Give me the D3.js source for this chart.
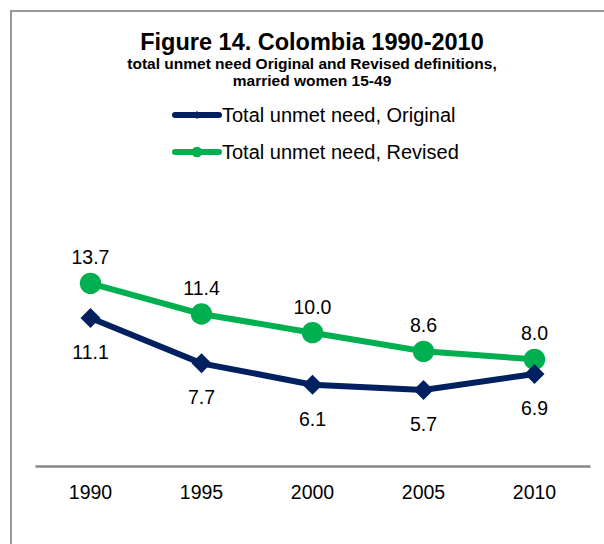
<!DOCTYPE html>
<html lang="en">
<head>
  <meta charset="UTF-8">
  <title>Figure 14. Colombia 1990-2010</title>
  <style>
    body {
      margin: 0;
      background: #ffffff;
      font-family: "Liberation Sans", Arial, sans-serif;
    }
  </style>
</head>
<body>
  <div id="chart"></div>

  <script src="https://d3js.org/d3.v7.min.js"></script>
  <script>
    const years = ["1990", "1995", "2000", "2005", "2010"];
    const original = [11.1, 7.7, 6.1, 5.7, 6.9];
    const revised = [13.7, 11.4, 10.0, 8.6, 8.0];
    const seriesNames = ["Total unmet need, Original", "Total unmet need, Revised"];

    const width = 604;
    const height = 544;
    const navy = "#002060";
    const green = "#00b050";

    const svg = d3.select("#chart")
      .append("svg")
      .attr("width", width)
      .attr("height", height);

    // chart frame (cropped at right and bottom)
    svg.append("path")
      .attr("d", "M11,544 V11 H604")
      .attr("fill", "none")
      .attr("stroke", "#999")
      .attr("stroke-width", 2);

    // titles
    svg.append("text")
      .attr("x", 312).attr("y", 50)
      .attr("text-anchor", "middle")
      .attr("font-size", 23.5).attr("font-weight", "bold")
      .attr("fill", "#000")
      .text("Figure 14. Colombia 1990-2010");
    svg.append("text")
      .attr("x", 312).attr("y", 69)
      .attr("text-anchor", "middle")
      .attr("font-size", 15.5).attr("font-weight", "bold")
      .text("total unmet need Original and Revised definitions,");
    svg.append("text")
      .attr("x", 312).attr("y", 86)
      .attr("text-anchor", "middle")
      .attr("font-size", 15.5).attr("font-weight", "bold")
      .text("married women 15-49");

    const x = d3.scaleBand().domain(years).range([35, 590]);
    const y = d3.scaleLinear().domain([0, 30]).range([466, 66]);
    const cx = d => x(d) + x.bandwidth() / 2;

    // x axis
    const xAxis = svg.append("g")
      .attr("transform", "translate(0,466)")
      .call(d3.axisBottom(x).tickSize(0).tickPadding(19));
    xAxis.select(".domain").attr("stroke", "#888").attr("stroke-width", 2.5);
    xAxis.selectAll("text")
      .attr("font-size", 19.5)
      .attr("font-family", "Liberation Sans, Arial, sans-serif")
      .attr("fill", "#000");

    const line = d3.line()
      .x((d, i) => cx(years[i]))
      .y(d => y(d));

    // square turned 45 degrees gives the Excel-style diamond
    const diamond = d3.symbol().type(d3.symbolSquare);
    const circle = d3.symbol().type(d3.symbolCircle);

    // revised series
    svg.append("path")
      .datum(revised)
      .attr("d", line)
      .attr("fill", "none")
      .attr("stroke", green)
      .attr("stroke-width", 6);
    svg.selectAll(".rev-pt")
      .data(revised)
      .enter().append("path")
      .attr("class", "rev-pt")
      .attr("d", circle.size(360))
      .attr("transform", (d, i) => `translate(${cx(years[i])},${y(d)})`)
      .attr("fill", green);

    // original series
    svg.append("path")
      .datum(original)
      .attr("d", line)
      .attr("fill", "none")
      .attr("stroke", navy)
      .attr("stroke-width", 6);
    svg.selectAll(".orig-pt")
      .data(original)
      .enter().append("path")
      .attr("class", "orig-pt")
      .attr("d", diamond.size(200))
      .attr("transform", (d, i) => `translate(${cx(years[i])},${y(d)}) rotate(45)`)
      .attr("fill", navy);

    // data labels
    svg.selectAll(".rev-lbl")
      .data(revised)
      .enter().append("text")
      .attr("x", (d, i) => cx(years[i]))
      .attr("y", d => y(d) - 19)
      .attr("text-anchor", "middle")
      .attr("font-size", 19.5)
      .text(d => d.toFixed(1));
    svg.selectAll(".orig-lbl")
      .data(original)
      .enter().append("text")
      .attr("x", (d, i) => cx(years[i]))
      .attr("y", d => y(d) + 41)
      .attr("text-anchor", "middle")
      .attr("font-size", 19.5)
      .text(d => d.toFixed(1));

    // legend
    const legend = [
      { name: seriesNames[0], color: navy, sym: diamond.size(32), rot: 45, y: 115 },
      { name: seriesNames[1], color: green, sym: circle.size(90), rot: 0, y: 152 }
    ];
    legend.forEach(l => {
      svg.append("line")
        .attr("x1", 175).attr("x2", 219)
        .attr("y1", l.y).attr("y2", l.y)
        .attr("stroke", l.color)
        .attr("stroke-width", 6)
        .attr("stroke-linecap", "round");
      svg.append("path")
        .attr("d", l.sym)
        .attr("transform", `translate(197,${l.y}) rotate(${l.rot})`)
        .attr("fill", l.color);
      svg.append("text")
        .attr("x", 222).attr("y", l.y + 7)
        .attr("font-size", 20)
        .attr("fill", "#000")
        .text(l.name);
    });
  </script>
</body>
</html>
